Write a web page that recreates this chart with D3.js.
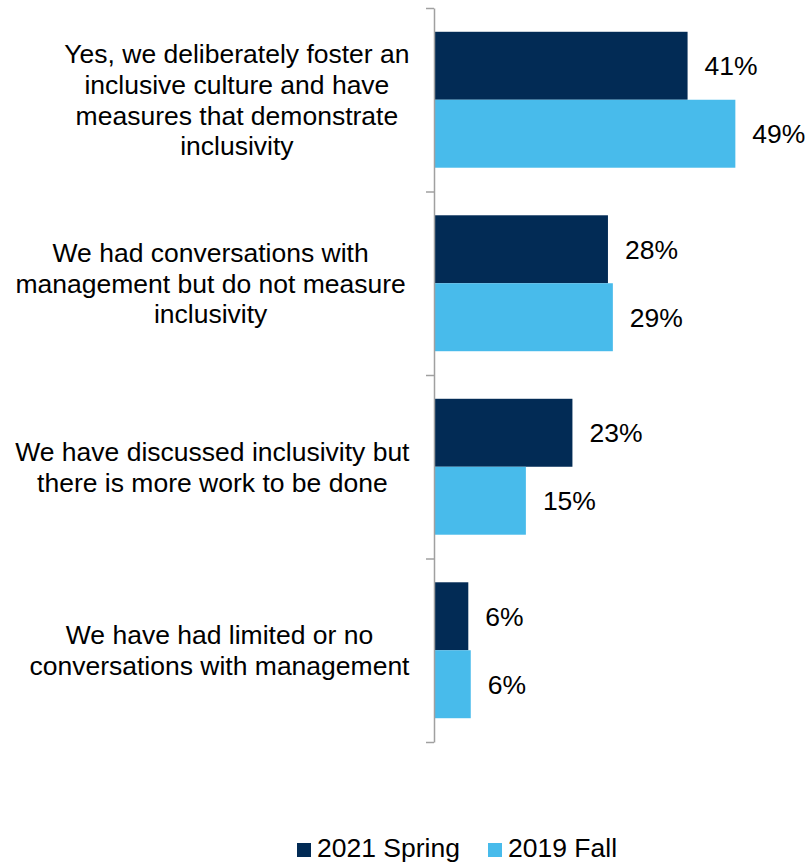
<!DOCTYPE html>
<html>
<head>
<meta charset="utf-8">
<script src="https://cdn.jsdelivr.net/npm/d3@7"></script>
<style>
  body { margin: 0; background: #fff; }
  text { font-family: "Liberation Sans", Arial, sans-serif; fill: #000; }
</style>
</head>
<body>
<div id="chart"></div>
<script>
// data
var categories = ["cat1", "cat2", "cat3", "cat4"];
var categoryLines = [
  ["Yes, we deliberately foster an", "inclusive culture and have", "measures that demonstrate", "inclusivity"],
  ["We had conversations with", "management but do not measure ", "inclusivity"],
  ["We have discussed inclusivity but", "there is more work to be done"],
  ["We have had limited or no", "conversations with management"]
];
var seriesNames = ["2021 Spring", "2019 Fall"];
var spring2021 = [41.4, 28.4, 22.6, 5.6];
var fall2019 = [49.2, 29.2, 15.0, 6.0];
var valueLabels2021 = ["41%", "28%", "23%", "6%"];
var valueLabels2019 = ["49%", "29%", "15%", "6%"];
var colors = ["#022B55", "#48BBEB"];

var width = 807, height = 864;
var margin = {top: 8, left: 434, bottom: 122};
var plotH = height - margin.top - margin.bottom;
var fontSize = "26.5px";

var svg = d3.select("#chart")
  .append("svg")
    .attr("width", width)
    .attr("height", height);

var x = d3.scaleLinear()
  .domain([0, 60])
  .range([margin.left, margin.left + 367.5]);

var y = d3.scaleBand()
  .domain(categories)
  .range([margin.top, margin.top + plotH])
  .padding(0);

var ySeries = d3.scaleBand()
  .domain([0, 1])
  .range([0, y.bandwidth()])
  .paddingInner(0)
  .paddingOuter(0.35);

var rows = categories.map(function(c, i) {
  return {cat: c, values: [spring2021[i], fall2019[i]], labels: [valueLabels2021[i], valueLabels2019[i]]};
});

// bars
var groups = svg.append("g")
  .selectAll("g")
  .data(rows)
  .enter()
  .append("g")
    .attr("transform", function(d) { return "translate(0," + y(d.cat) + ")"; });

groups.selectAll("rect")
  .data(function(d) { return d.values.map(function(v, s) { return {v: v, s: s}; }); })
  .enter()
  .append("rect")
    .attr("x", x(0))
    .attr("y", function(d) { return ySeries(d.s); })
    .attr("width", function(d) { return x(d.v) - x(0); })
    .attr("height", ySeries.bandwidth())
    .style("fill", function(d) { return colors[d.s]; });

groups.selectAll("text.val")
  .data(function(d) { return d.values.map(function(v, s) { return {v: v, s: s, label: d.labels[s]}; }); })
  .enter()
  .append("text")
    .classed("val", true)
    .attr("x", function(d) { return x(d.v) + 17; })
    .attr("y", function(d) { return ySeries(d.s) + ySeries.bandwidth() / 2 + 9.5; })
    .style("font-size", fontSize)
    .text(function(d) { return d.label; });

// axis with ticks at the category boundaries
var yIdx = d3.scaleLinear()
  .domain([0, categories.length])
  .range([margin.top, margin.top + plotH]);

var axis = svg.append("g")
  .attr("transform", "translate(" + x(0) + ",0)")
  .call(d3.axisLeft(yIdx)
    .tickValues(d3.range(categories.length + 1))
    .tickSize(8)
    .tickSizeOuter(0)
    .tickFormat(""));
axis.selectAll("path, line")
  .style("stroke", "#A0A0A0")
  .style("stroke-width", 1.5);

// category labels, centred blocks (width measured with trailing spaces, like the wrap box)
var lineH = 30.6;
var labelRight = 409.5;
categories.forEach(function(c, i) {
  var lines = categoryLines[i];
  var cy = y(c) + y.bandwidth() / 2;
  var first = cy - (lines.length - 1) * lineH / 2 + 9.5;

  var probe = svg.append("text").style("font-size", fontSize).style("white-space", "pre");
  var maxW = 0;
  lines.forEach(function(l) {
    probe.text(l);
    maxW = Math.max(maxW, probe.node().getComputedTextLength());
  });
  probe.remove();

  var t = svg.append("text")
    .attr("text-anchor", "middle")
    .style("font-size", fontSize);
  lines.forEach(function(l, j) {
    t.append("tspan")
      .attr("x", labelRight - maxW / 2)
      .attr("y", first + j * lineH)
      .text(l.trim());
  });
});

// legend
var legend = svg.append("g").attr("transform", "translate(297,843)");
var legendX = [0, 191];
seriesNames.forEach(function(n, i) {
  var g = legend.append("g").attr("transform", "translate(" + legendX[i] + ",0)");
  g.append("rect").attr("width", 14).attr("height", 14).style("fill", colors[i]);
  g.append("text")
    .attr("x", 20)
    .attr("y", 13.5)
    .style("font-size", fontSize)
    .text(n);
});
</script>
</body>
</html>
